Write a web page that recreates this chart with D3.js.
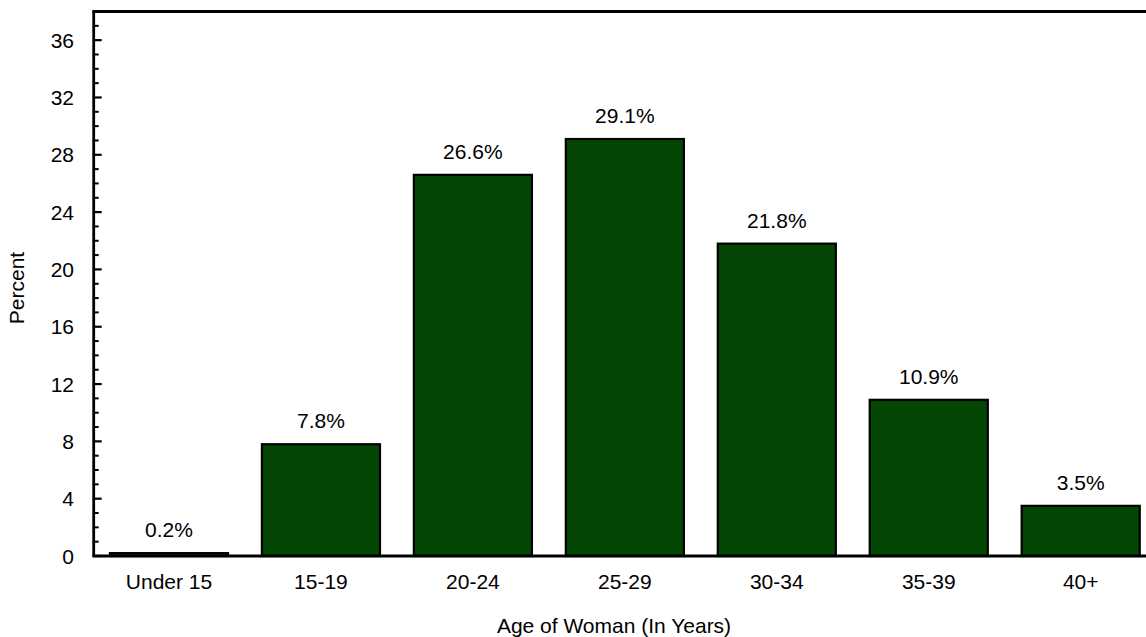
<!DOCTYPE html>
<html>
<head>
<meta charset="utf-8">
<script src="https://cdn.jsdelivr.net/npm/d3@7"></script>
<style>
  body { margin: 0; background: #fff; }
  svg text { font-family: "Liberation Sans", Arial, sans-serif; fill: #000; font-size: 21px; }
</style>
</head>
<body>
<svg id="chart" width="1146" height="637"></svg>
<script>
const ageGroups = ["Under 15", "15-19", "20-24", "25-29", "30-34", "35-39", "40+"];
const percents = [0.2, 7.8, 26.6, 29.1, 21.8, 10.9, 3.5];
const valueLabels = ["0.2%", "7.8%", "26.6%", "29.1%", "21.8%", "10.9%", "3.5%"];
const majorTicks = [0, 4, 8, 12, 16, 20, 24, 28, 32, 36];
const yMax = 38;

const svg = d3.select("#chart");
const plotLeft = 93.7, plotRight = 1156, plotTop = 11.5, plotBottom = 556;

const x = d3.scaleBand()
    .domain(ageGroups)
    .range([plotLeft, plotRight])
    .paddingInner(0.223)
    .paddingOuter(0.107);

const y = d3.scaleLinear()
    .domain([0, yMax])
    .range([plotBottom, plotTop]);

const data = ageGroups.map((g, i) => ({ group: g, value: percents[i], label: valueLabels[i] }));

// bars
svg.append("g")
    .selectAll("rect")
    .data(data)
    .enter()
    .append("rect")
    .attr("x", d => x(d.group))
    .attr("width", x.bandwidth())
    .attr("y", d => y(d.value))
    .attr("height", d => y(0) - y(d.value))
    .attr("fill", "#044604")
    .attr("stroke", "#000")
    .attr("stroke-width", 2.2);

// value labels
svg.append("g")
    .selectAll("text")
    .data(data)
    .enter()
    .append("text")
    .attr("x", d => x(d.group) + x.bandwidth() / 2)
    .attr("y", d => y(d.value) - 16)
    .attr("text-anchor", "middle")
    .text(d => d.label);

// y axis: minor ticks every 1, major every 4, pointing inward
const minorTicks = d3.range(0, yMax + 1).filter(v => v % 4 !== 0);
const yAxis = svg.append("g");
yAxis.selectAll("line.minor")
    .data(minorTicks)
    .enter()
    .append("line")
    .attr("class", "minor")
    .attr("x1", plotLeft).attr("x2", plotLeft + 5)
    .attr("y1", d => y(d)).attr("y2", d => y(d))
    .attr("stroke", "#000").attr("stroke-width", 2);
yAxis.selectAll("line.major")
    .data(majorTicks)
    .enter()
    .append("line")
    .attr("class", "major")
    .attr("x1", plotLeft).attr("x2", plotLeft + 8)
    .attr("y1", d => y(d)).attr("y2", d => y(d))
    .attr("stroke", "#000").attr("stroke-width", 2.2);
yAxis.selectAll("text")
    .data(majorTicks)
    .enter()
    .append("text")
    .attr("x", 74)
    .attr("y", d => y(d))
    .attr("dy", "0.36em")
    .attr("text-anchor", "end")
    .text(d => d);

// frame: left, top, bottom
svg.append("line")
    .attr("x1", plotLeft).attr("x2", plotLeft)
    .attr("y1", plotTop).attr("y2", plotBottom)
    .attr("stroke", "#000").attr("stroke-width", 2.8);
svg.append("line")
    .attr("x1", plotLeft - 1.4).attr("x2", 1146)
    .attr("y1", plotTop).attr("y2", plotTop)
    .attr("stroke", "#000").attr("stroke-width", 2.8);
svg.append("line")
    .attr("x1", plotLeft - 1.4).attr("x2", 1146)
    .attr("y1", plotBottom).attr("y2", plotBottom)
    .attr("stroke", "#000").attr("stroke-width", 3);

// x category labels
svg.append("g")
    .selectAll("text")
    .data(ageGroups)
    .enter()
    .append("text")
    .attr("x", d => x(d) + x.bandwidth() / 2)
    .attr("y", 589)
    .attr("text-anchor", "middle")
    .text(d => d);

// axis titles
svg.append("text")
    .attr("x", 614)
    .attr("y", 633)
    .attr("text-anchor", "middle")
    .text("Age of Woman (In Years)");

svg.append("text")
    .attr("transform", "translate(24,288) rotate(-90)")
    .attr("text-anchor", "middle")
    .text("Percent");
</script>
</body>
</html>
